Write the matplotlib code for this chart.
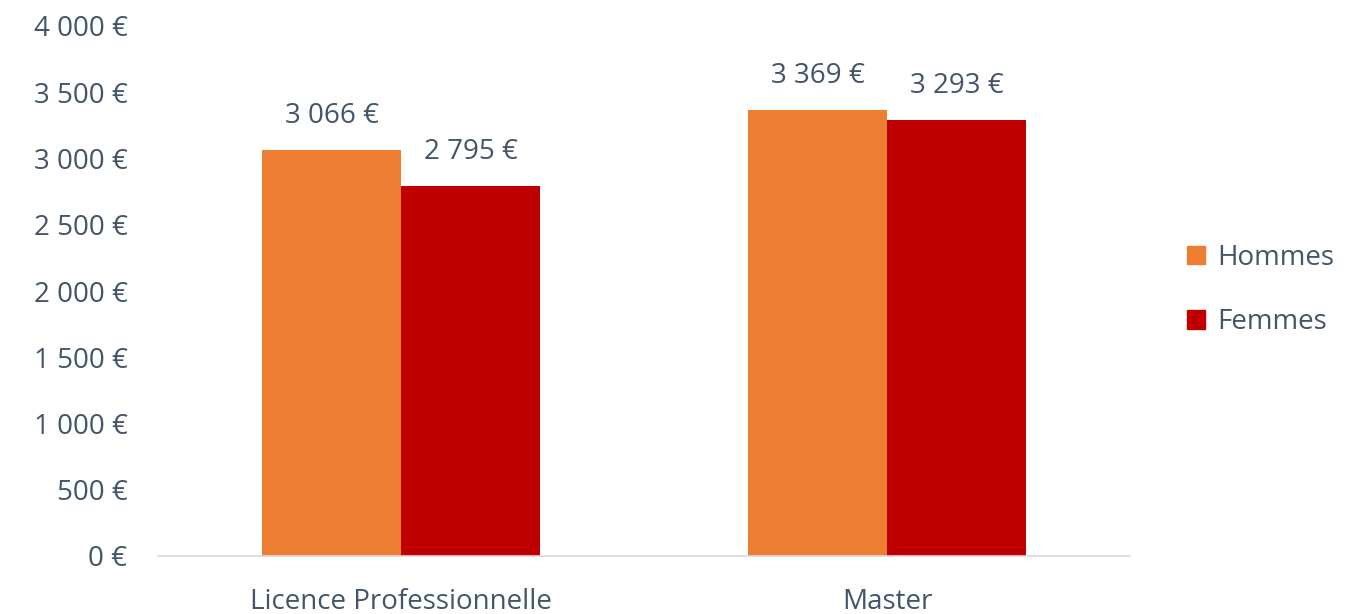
import matplotlib
matplotlib.use("Agg")
import matplotlib.pyplot as plt
from matplotlib.patches import Patch
from matplotlib.ticker import FuncFormatter
import numpy as np

categories = ["Licence Professionnelle", "Master"]
hommes = [3066, 3369]
femmes = [2795, 3293]
series_names = ["Hommes", "Femmes"]
yticks = [0, 500, 1000, 1500, 2000, 2500, 3000, 3500, 4000]

TEXT = "#44546A"
C_H = "#ED7D31"
C_F = "#C00000"

plt.rcParams['font.family'] = ['Open Sans', 'DejaVu Sans']
FS = 20

def fmt(v):
    return f"{int(v):,}".replace(",", " ") + " €"

fig = plt.figure(figsize=(13.56, 6.14), dpi=100)
ax = fig.add_axes([158/1356, 1-556/614, (1130-158)/1356, (556-26)/614])

x = np.arange(len(categories))
w = 0.286
b1 = ax.bar(x - w/2, hommes, w, color=C_H, label=series_names[0])
b2 = ax.bar(x + w/2, femmes, w, color=C_F, label=series_names[1])

for bars, vals in ((b1, hommes), (b2, femmes)):
    for rect, v in zip(bars, vals):
        ax.annotate(fmt(v), (rect.get_x() + rect.get_width()/2, v),
                    xytext=(0, 19), textcoords="offset points",
                    ha="center", va="baseline", fontsize=FS, color=TEXT)

ax.set_xlim(-0.5, 1.5)
ax.set_ylim(0, 4000)
ax.set_yticks(yticks)
ax.yaxis.set_major_formatter(FuncFormatter(lambda v, p: fmt(v)))
ax.set_xticks(x)
ax.set_xticklabels(categories)
ax.tick_params(axis="both", length=0, labelsize=FS, colors=TEXT)
ax.tick_params(axis="y", pad=22)
ax.tick_params(axis="x", pad=23)
for s in ["top", "right", "left"]:
    ax.spines[s].set_visible(False)
ax.spines["bottom"].set_color("#D9D9D9")
ax.spines["bottom"].set_linewidth(1.2)

handles = [Patch(color=C_H, label=series_names[0]), Patch(color=C_F, label=series_names[1])]
leg = fig.legend(handles=handles, loc="center left", bbox_to_anchor=(1187/1356, 1-290/614),
                 frameon=False, fontsize=FS, labelspacing=1.3, handlelength=0.65,
                 handleheight=0.65, handletextpad=0.43, labelcolor=TEXT,
                 borderpad=0, borderaxespad=0)

fig.savefig("out.png", dpi=100)
